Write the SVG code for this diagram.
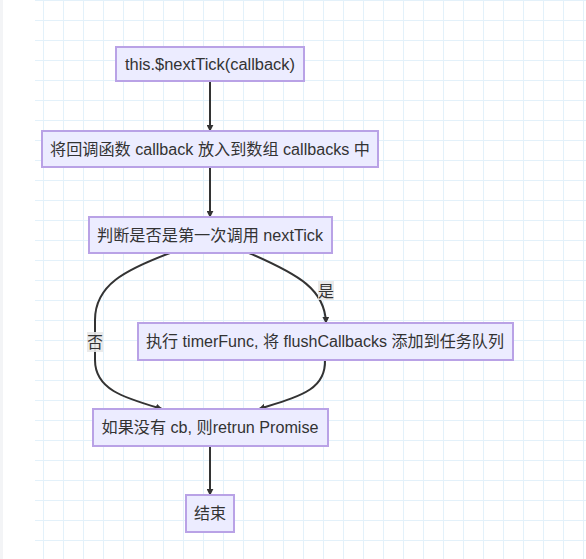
<svg xmlns="http://www.w3.org/2000/svg" width="586" height="559" viewBox="0 0 586 559">
<defs>
<pattern id="grid" x="3" y="0" width="20" height="20" patternUnits="userSpaceOnUse">
<path d="M0.5,0 V20 M0,0.5 H20" fill="none" stroke="#e3f1fa" stroke-width="1"/>
</pattern>
<marker id="arrow" viewBox="0 0 10 10" refX="9" refY="5" markerWidth="7" markerHeight="7" markerUnits="userSpaceOnUse" orient="auto">
<path d="M0,0 L10,5 L0,10 z" fill="#333"/>
</marker>
<style>
.node rect{fill:#ECECFF;stroke:#b9a2e6;stroke-width:2}
.node text{font-family:"Liberation Sans","Noto Sans CJK SC",sans-serif;font-size:16px;fill:#333;text-anchor:middle}
.edge{fill:none;stroke:#333;stroke-width:2;marker-end:url(#arrow)}
.lbl rect{fill:#e8e8e8;opacity:0.9}
.lbl text{font-family:"Liberation Sans","Noto Sans CJK SC",sans-serif;font-size:16px;fill:#333;text-anchor:middle}
</style>
</defs>
<rect x="0" y="0" width="586" height="559" fill="#ffffff"/>
<rect x="0" y="0" width="3" height="559" fill="#f3f4f6"/>
<rect x="35" y="0" width="551" height="559" fill="url(#grid)"/>

<g id="connectors">
<path class="edge" d="M210,81 L210,131"/>
<path class="edge" d="M210,167 L210,217"/>
<path class="edge" d="M170,253 C125,270 95,285 95,320 L95,360 C95,390 125,398 162,409"/>
<path class="edge" d="M249,253 C300,275 325,290 326,323"/>
<path class="edge" d="M325,360 C326,390 300,396 259,409"/>
<path class="edge" d="M210,446 L210,495"/>
<g class="lbl" id="label-no"><rect x="87" y="332" width="16" height="20"/><text x="95" y="348">否</text></g>
<g class="lbl" id="label-yes"><rect x="318" y="281" width="16" height="19"/><text x="326" y="297">是</text></g>
</g>

<g id="n1" class="node"><rect x="116" y="47" width="188" height="34"/><text x="210" y="70" textLength="170" lengthAdjust="spacingAndGlyphs">this.$nextTick(callback)</text></g>
<g id="n2" class="node"><rect x="42" y="131" width="336" height="36"/><text x="210" y="155" textLength="320" lengthAdjust="spacingAndGlyphs">将回调函数 callback 放入到数组 callbacks 中</text></g>
<g id="n3" class="node"><rect x="89" y="217" width="243" height="36"/><text x="210" y="241" textLength="226" lengthAdjust="spacingAndGlyphs">判断是否是第一次调用 nextTick</text></g>
<g id="n4" class="node"><rect x="138" y="323" width="375" height="37"/><text x="325" y="347" textLength="358" lengthAdjust="spacingAndGlyphs">执行 timerFunc, 将 flushCallbacks 添加到任务队列</text></g>
<g id="n5" class="node"><rect x="93" y="409" width="235" height="37"/><text x="210" y="433" textLength="217" lengthAdjust="spacingAndGlyphs">如果没有 cb, 则retrun Promise</text></g>
<g id="n6" class="node"><rect x="186" y="495" width="48" height="37"/><text x="210" y="519">结束</text></g>
</svg>
